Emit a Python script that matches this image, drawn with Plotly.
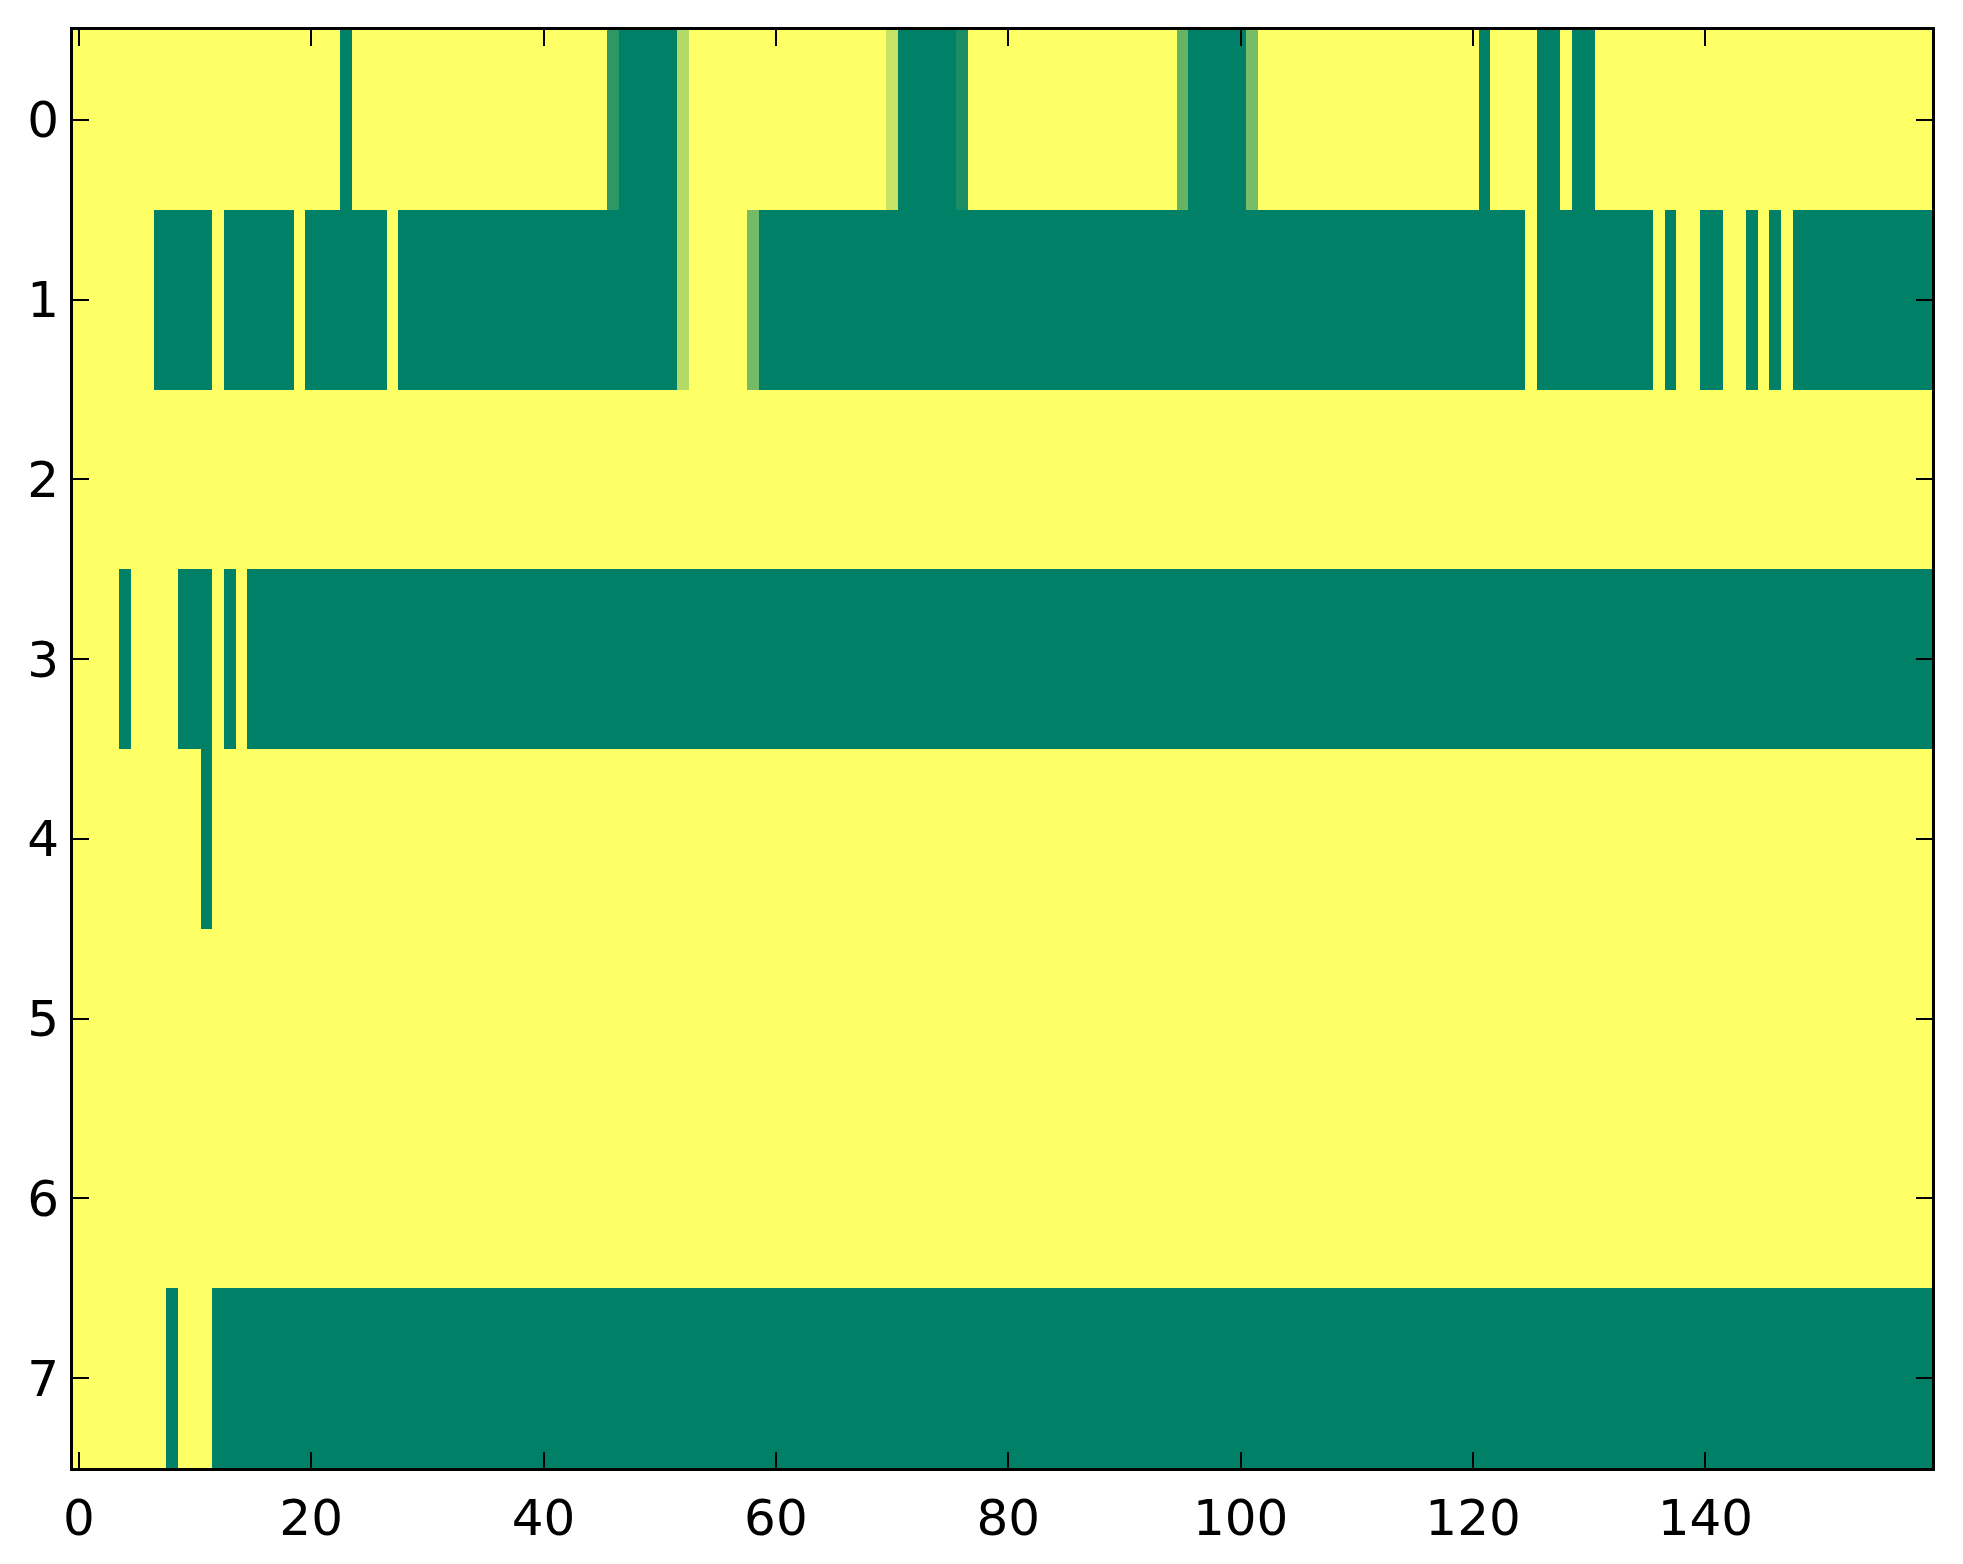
import plotly.graph_objects as go

# each row of the image as runs of (value, number of columns), read left to right
# 1.0 = yellow, 0.0 = dark green, in-between values are the lighter greens
row_0 = [(1, 23), (0, 1), (1, 22), (0.18, 1), (0, 5), (0.70, 1), (1, 17), (0.78, 1),
         (0, 5), (0.10, 1), (1, 18), (0.40, 1), (0, 5), (0.47, 1), (1, 19), (0, 1),
         (1, 4), (0, 2), (1, 1), (0, 2), (1, 29)]
row_1 = [(1, 7), (0, 5), (1, 1), (0, 6), (1, 1), (0, 7), (1, 1), (0, 24), (0.70, 1),
         (1, 5), (0.46, 1), (0, 66), (1, 1), (0, 10), (1, 1), (0, 1), (1, 2), (0, 2),
         (1, 2), (0, 1), (1, 1), (0, 1), (1, 1), (0, 12)]
row_2 = [(1, 160)]
row_3 = [(1, 4), (0, 1), (1, 4), (0, 3), (1, 1), (0, 1), (1, 1), (0, 145)]
row_4 = [(1, 11), (0, 1), (1, 148)]
row_5 = [(1, 160)]
row_6 = [(1, 160)]
row_7 = [(1, 8), (0, 1), (1, 3), (0, 148)]

x_ticks = [0, 20, 40, 60, 80, 100, 120, 140]
y_ticks = [0, 1, 2, 3, 4, 5, 6, 7]

# matplotlib "summer" colormap end points
summer = [[0.0, "rgb(0,128,102)"], [1.0, "rgb(255,255,102)"]]


def expand(runs):
    out = []
    for value, count in runs:
        out.extend([value] * count)
    return out


rows = [row_0, row_1, row_2, row_3, row_4, row_5, row_6, row_7]
z = [expand(r) for r in rows]

fig = go.Figure(
    go.Heatmap(
        z=z,
        colorscale=summer,
        zmin=0,
        zmax=1,
        showscale=False,
        hoverongaps=False,
    )
)

axis_style = dict(
    showline=True,
    linecolor="black",
    linewidth=3,
    mirror="allticks",
    ticks="inside",
    ticklen=16,
    tickwidth=2,
    tickcolor="black",
    showgrid=False,
    zeroline=False,
    tickfont=dict(family="DejaVu Sans", size=50, color="black"),
)

fig.update_xaxes(range=[-0.5, 159.5], tickvals=x_ticks, ticklabelstandoff=4, **axis_style)
fig.update_yaxes(range=[7.5, -0.5], tickvals=y_ticks, ticklabelstandoff=1, **axis_style)

# the page body adds 8px around the figure, so the size is trimmed to fit
fig.update_layout(
    width=1955,
    height=1556,
    margin=dict(l=65, r=31, t=22, b=96),
    plot_bgcolor="white",
    paper_bgcolor="white",
)

fig.write_html("out.html")
